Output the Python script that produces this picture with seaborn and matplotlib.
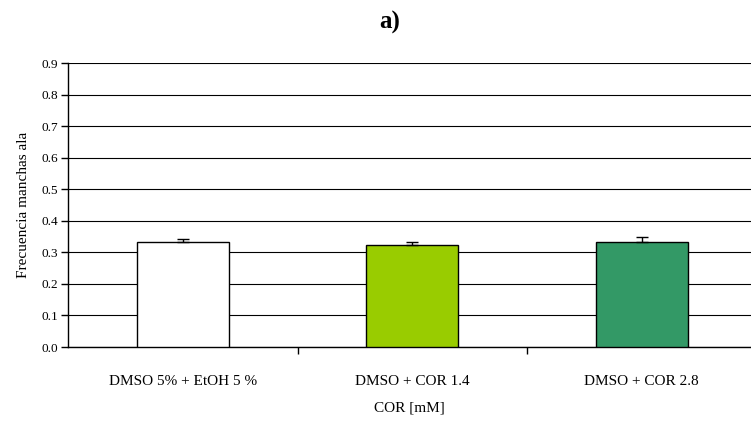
import matplotlib
matplotlib.use("Agg")
import matplotlib.pyplot as plt
import seaborn as sns
import pandas as pd
from matplotlib.ticker import FixedLocator

# Wing spot frequency per treatment
categories = ["DMSO 5% + EtOH 5 %", "DMSO + COR 1.4", "DMSO + COR 2.8"]
frequency = [0.332, 0.322, 0.333]
std_error = [0.011, 0.010, 0.015]
bar_colors = ["#FFFFFF", "#99CC00", "#339966"]
y_ticks = [0.0, 0.1, 0.2, 0.3, 0.4, 0.5, 0.6, 0.7, 0.8, 0.9]

sns.set_theme(style="white")
plt.rcParams["font.family"] = ["Liberation Serif", "DejaVu Serif"]
plt.rcParams["text.color"] = "black"
plt.rcParams["axes.labelcolor"] = "black"
plt.rcParams["xtick.color"] = "black"
plt.rcParams["ytick.color"] = "black"

df = pd.DataFrame({"grupo": categories, "frecuencia": frequency})

fig = plt.figure(figsize=(7.51, 4.25), dpi=100)
ax = fig.add_axes([68 / 751, 1 - 347 / 425, (751 - 68) / 751, (347 - 63) / 425])

sns.barplot(data=df, x="grupo", y="frecuencia", hue="grupo", palette=bar_colors,
            saturation=1, legend=False, width=0.40, edgecolor="black",
            linewidth=1.0, ax=ax, errorbar=None, zorder=3)

# Upper-only error bars
ax.errorbar(range(len(categories)), frequency,
            yerr=[[0] * len(std_error), std_error], fmt="none",
            ecolor="black", elinewidth=1.0, capsize=4, capthick=1.0, zorder=4)

ax.set_ylim(0, 0.9)
ax.set_xlim(-0.5, -0.5 + (751 - 68) / 229.5)
ax.set_yticks(y_ticks)
ax.set_yticklabels([f"{v:.1f}" for v in y_ticks], fontsize=9.5)
ax.yaxis.grid(True, color="black", linewidth=0.8)
ax.set_axisbelow(True)

# Category labels centered, tick marks on the boundaries between groups
ax.set_xticks(range(len(categories)))
ax.set_xticklabels(categories, fontsize=11)
ax.xaxis.set_minor_locator(FixedLocator([0.5, 1.5]))
ax.tick_params(axis="x", which="major", length=0, pad=20)
ax.tick_params(axis="x", which="minor", length=5, width=1, color="black",
               direction="out", bottom=True)
ax.tick_params(axis="y", which="major", length=5, width=1, color="black",
               direction="out", left=True, labelsize=9.5, pad=2)

for side in ["top", "right"]:
    ax.spines[side].set_visible(False)
for side in ["left", "bottom"]:
    ax.spines[side].set_color("black")
    ax.spines[side].set_linewidth(1.0)

ax.set_xlabel("COR [mM]", fontsize=11, labelpad=10)
ax.set_ylabel("Frecuencia manchas ala", fontsize=11, labelpad=8)

fig.text(390 / 751, 1 - 22 / 425, "a)", ha="center", va="center",
         fontsize=18, fontweight="bold")

fig.savefig("out.png", dpi=100)
